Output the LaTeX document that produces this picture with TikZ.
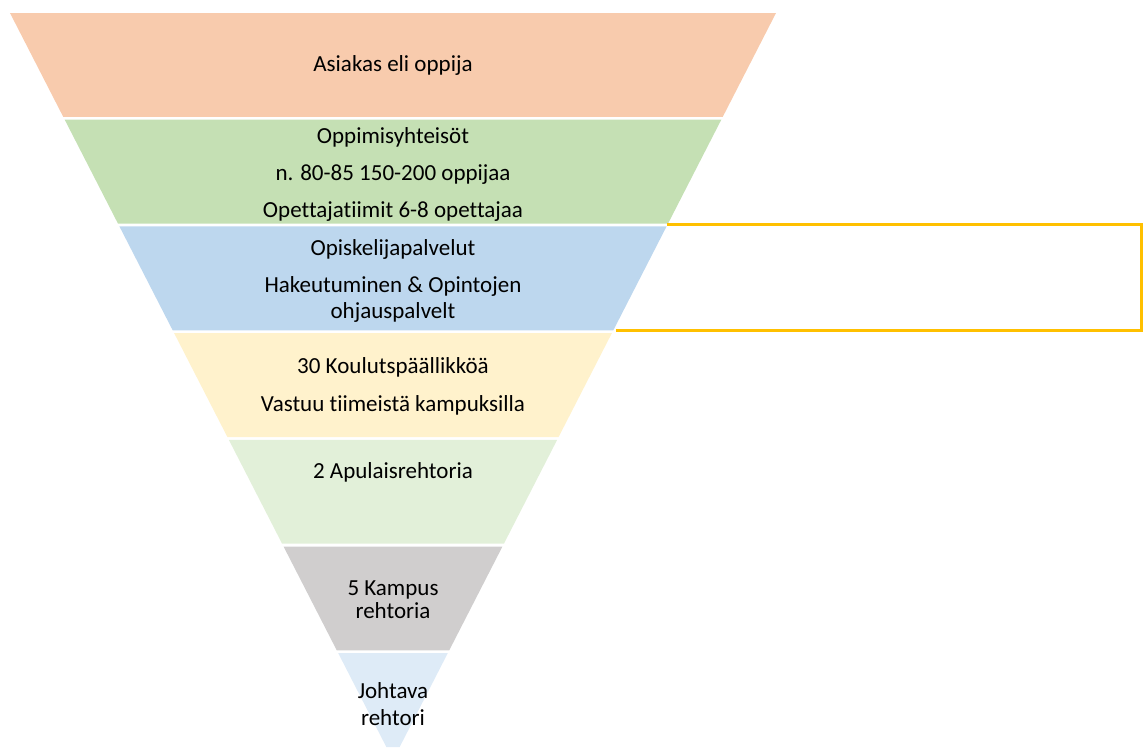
\documentclass[tikz,border=0pt]{standalone}
\usepackage{fontspec}
\setmainfont[Ligatures={NoCommon}]{Carlito}
\definecolor{sOrange}{HTML}{F8CBAD}
\definecolor{sGreen}{HTML}{C5E0B4}
\definecolor{sBlue}{HTML}{BDD7EE}
\definecolor{sYellow}{HTML}{FFF2CC}
\definecolor{sLightGreen}{HTML}{E2F0D9}
\definecolor{sGray}{HTML}{D0CECE}
\definecolor{sLightBlue}{HTML}{DEEBF7}
\definecolor{bracketYellow}{HTML}{FFC000}
\begin{document}
\begin{tikzpicture}[x=1pt,y=-1pt,
  lbl/.style={font=\fontsize{23}{26}\selectfont, anchor=base, inner sep=0pt, text=black},
  bracketline/.style={draw=bracketYellow, line width=2.6pt}]
\useasboundingbox (0,0) rectangle (1143,747);
\foreach \i/\col in {0/sOrange,1/sGreen,2/sBlue,3/sYellow,4/sLightGreen,5/sGray,6/sLightBlue} {
  \pgfmathsetmacro\t{13+106.7*\i}
  \pgfmathsetmacro\b{min(\t+103.9,747)}
  \pgfmathsetmacro\wt{0.51272*(760-\t)}
  \pgfmathsetmacro\wb{0.51272*(760-\b)}
  \fill[\col] ({393-\wt},\t) -- ({393+\wt},\t) -- ({393+\wb},\b) -- ({393-\wb},\b) -- cycle;
}
% texts
\node[lbl] (a1) at (393,71) {Asiakas eli oppija};
\node[lbl] (b1) at (393,143.3) {Oppimisyhteisöt};
\node[lbl] (b2) at (393,180.5) {n. 80-85 150-200 oppijaa};
\node[lbl] (b3) at (393,217.3) {Opettajatiimit 6-8 opettajaa};
\node[lbl] (c1) at (393,255) {Opiskelijapalvelut};
\node[lbl] (c2) at (393,292.7) {Hakeutuminen \& Opintojen};
\node[lbl] (c3) at (393,318.5) {ohjauspalvelt};
\node[lbl] (d1) at (393,373.3) {30 Koulutspäällikköä};
\node[lbl] (d2) at (393,411) {Vastuu tiimeistä kampuksilla};
\node[lbl] (e1) at (393,478.5) {2 Apulaisrehtoria};
\node[lbl] (f1) at (393,595) {5 Kampus};
\node[lbl] (f2) at (393,618.3) {rehtoria};
\node[lbl] (g1) at (393,698.5) {Johtava};
\node[lbl] (g2) at (393,725) {rehtori};
% yellow bracket
\coordinate (yb1) at (667,224.7);
\coordinate (yb2) at (1141.3,224.7);
\coordinate (yb3) at (1141.3,330.5);
\coordinate (yb4) at (615.5,330.5);
\draw[bracketline] (yb1) -- (yb2) -- (yb3) -- (yb4);
\end{tikzpicture}
\end{document}
